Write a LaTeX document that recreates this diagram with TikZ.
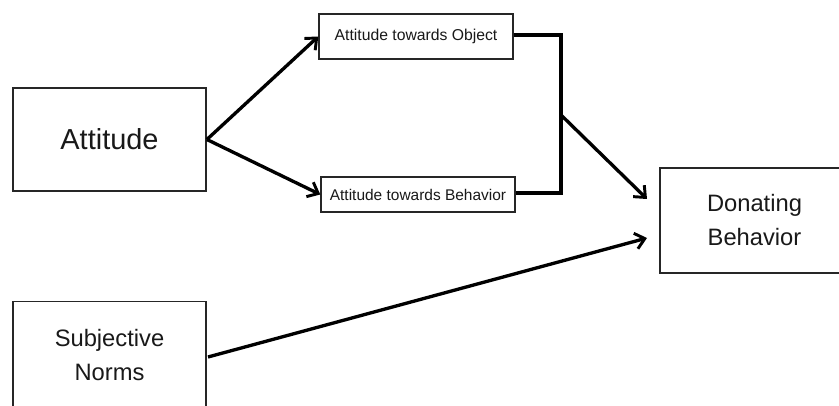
\documentclass[tikz,border=0pt]{standalone}
\usepackage{fontspec}
\setmainfont{Liberation Sans}
\usetikzlibrary{arrows.meta}
\begin{document}
\begin{tikzpicture}[x=0.75pt,y=-0.75pt,
  box/.style={draw=black!85,line width=1.1pt,rectangle,inner sep=0pt,align=center,text=black!90},
  conn/.style={draw=black,line width=2.5pt},
  arr/.style={conn,-{Straight Barb[length=7pt,width=12pt,line width=2.2pt]}}]
\useasboundingbox (0,0) rectangle (839,406);
\fill[white] (0,0) rectangle (839,406);
\clip (0,0) rectangle (839,406);
\node[box,minimum width=145pt,minimum height=77pt,font=\fontsize{21.7}{26}\selectfont] (att) at (109.5,139.5) {Attitude};
\node[box,minimum width=145.5pt,minimum height=34pt,font=\fontsize{11.8}{15}\selectfont] (ato) at (416,36.5) {Attitude towards Object};
\node[box,minimum width=145.5pt,minimum height=26pt,font=\fontsize{11.6}{15}\selectfont] (atb) at (418,194.5) {Attitude towards Behavior};
\node[box,minimum width=142pt,minimum height=79pt,font=\fontsize{17.8}{25.5}\selectfont] (db) at (754.5,220.5) {Donating\\Behavior};
\node[box,minimum width=145pt,minimum height=80pt,font=\fontsize{17.8}{25.5}\selectfont] (sn) at (109.5,355) {Subjective\\Norms};
\coordinate (bt) at (561,35);
\coordinate (bb) at (561,193);
\coordinate (j) at (561,115);
\coordinate (t1) at (647,199);
\coordinate (t2) at (647,238);
\coordinate (s) at (208,357);
\draw[arr] (att.east) -- (ato.west);
\draw[arr] (att.east) -- (atb.west);
\draw[conn] (ato.east |- bt) -- (bt) -- (bb) -- (atb.east |- bb);
\draw[arr] (j) -- (t1);
\draw[arr] (s) -- (t2);
\end{tikzpicture}
\end{document}
